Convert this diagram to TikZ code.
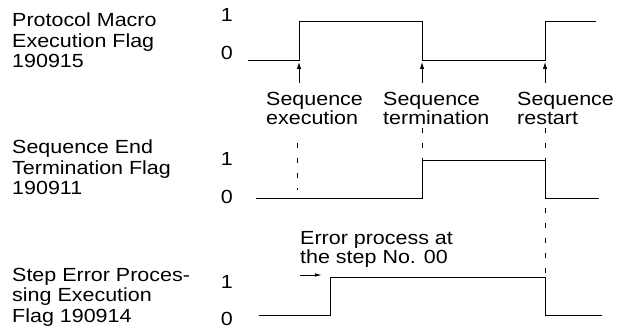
\documentclass[tikz,border=0pt]{standalone}
\usepackage{fontspec}
\setmainfont[FakeStretch=1.13]{Liberation Sans}
\usetikzlibrary{arrows.meta}
\begin{document}
\begin{tikzpicture}[x=1pt,y=-1pt,
  sig/.style={line width=0.9pt, line join=miter},
  lbl/.style={inner sep=0pt, anchor=base west, align=left, font=\fontsize{19}{20.5}\selectfont},
  note/.style={inner sep=0pt, anchor=base west, align=left, font=\fontsize{19}{19}\selectfont},
  lvl/.style={inner sep=0pt, anchor=base east, font=\fontsize{19}{20}\selectfont},
  dsh/.style={line width=0.9pt, dash pattern=on 5pt off 10pt},
  arr/.style={line width=0.9pt, -{Latex[length=7pt,width=4.5pt]}}]
\useasboundingbox (0,0) rectangle (624,331);

% left labels (anchored at the baseline of the last line)
\node[lbl] (l1) at (12,68) {Protocol Macro\\Execution Flag\\190915};
\node[lbl] (l2) at (12,195) {Sequence End\\Termination Flag\\190911};
\node[lbl] (l3) at (12,322) {Step Error Proces-\\sing Execution\\Flag 190914};

% level digits
\node[lvl] (a1) at (233,22) {1};
\node[lvl] (a0) at (233,60) {0};
\node[lvl] (b1) at (233,166) {1};
\node[lvl] (b0) at (233,204) {0};
\node[lvl] (c1) at (233,288) {1};
\node[lvl] (c0) at (233,325) {0};

% signals
\draw[sig] (248,60) -- (299,60) -- (299,21) -- (422,21) -- (422,60) -- (545,60) -- (545,21) -- (596,21);
\draw[sig] (256,198) -- (422,198) -- (422,160) -- (545,160) -- (545,198) -- (599,198);
\draw[sig] (259,315) -- (330,315) -- (330,277) -- (545,277) -- (545,315) -- (602,315);

% event labels
\node[note] (ex) at (266,125) {Sequence\\execution};
\node[note] (te) at (383,125) {Sequence\\termination};
\node[note] (re) at (517,125) {Sequence\\restart};
\node[note] (er) at (300,263) {Error process at\\the step No. 00};

% arrows
\coordinate (s1) at (299,83); \coordinate (e1) at (299,62);
\coordinate (s2) at (422,83); \coordinate (e2) at (422,62);
\coordinate (s3) at (545,83); \coordinate (e3) at (545,62);
\draw[arr] (s1) -- (e1);
\draw[arr] (s2) -- (e2);
\draw[arr] (s3) -- (e3);
\coordinate (s4) at (300,275); \coordinate (e4) at (322,275);
\draw[arr, -{Latex[length=7pt,width=3.5pt]}] (s4) -- (e4);

% dashed guides
\coordinate (d1a) at (297,143); \coordinate (d1b) at (297,190);
\coordinate (d2a) at (422,128); \coordinate (d2b) at (422,160);
\coordinate (d3a) at (545,128); \coordinate (d3b) at (545,160);
\coordinate (d4a) at (545,208); \coordinate (d4b) at (545,277);
\draw[dsh] (d1a) -- (d1b);
\draw[dsh] (d2a) -- (d2b);
\draw[dsh] (d3a) -- (d3b);
\draw[dsh] (d4a) -- (d4b);
\end{tikzpicture}
\end{document}
